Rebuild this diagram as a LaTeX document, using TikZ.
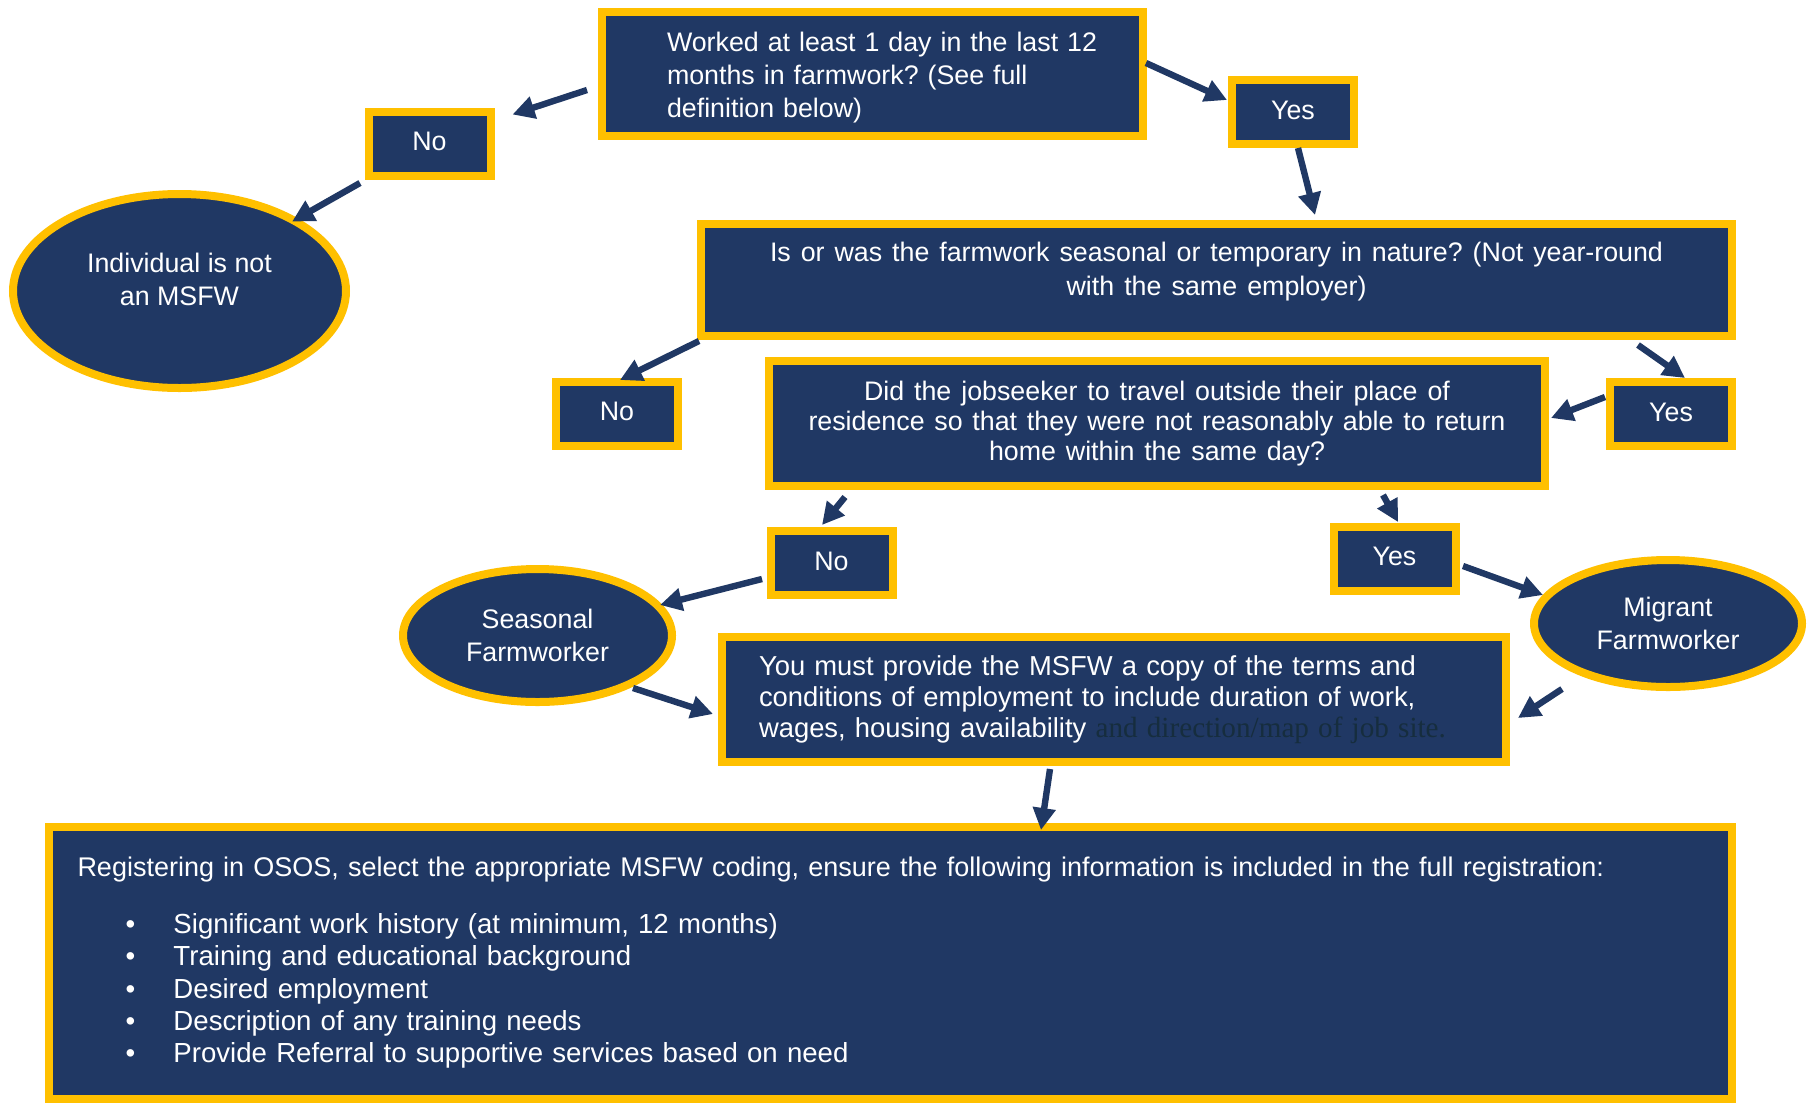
\documentclass[tikz,border=0pt]{standalone}
\usepackage{fontspec}
\setmainfont{Liberation Sans}
\newfontfamily\serifFont{Liberation Serif}
\usepackage{tikz}
\usetikzlibrary{positioning, calc, shapes.geometric, arrows.meta}
\tikzstyle{flowchart} = [x = 0.5pt, y = -0.5pt]
\definecolor{boxColor}{RGB}{32,56,100}
\definecolor{borderColor}{RGB}{255,192,0}
\definecolor{hiddenColor}{RGB}{22,45,62}
\newcommand{\boxFont}{\fontsize{13.4pt}{16.5pt}\selectfont\frenchspacing}
\newcommand{\listFont}{\fontsize{13.8pt}{16.2pt}\selectfont}
\newcommand{\hiddenFont}{\color{hiddenColor}\serifFont\fontsize{14.6pt}{15.5pt}\selectfont}
\tikzstyle{boxStyle} = [rectangle, draw=borderColor, fill=boxColor, line width=4pt, text=white, inner sep=0pt, font=\boxFont]
\tikzstyle{answerStyle} = [boxStyle, minimum width=61pt, minimum height=32pt, text depth=2pt]
\tikzstyle{ovalStyle} = [boxStyle, ellipse, align=center]
\tikzstyle{arrowStyle} = [color=boxColor, line width=3.2pt, -{Triangle[length=11pt, width=11pt]}]
\newcommand{\answerBox}[4]{\node [answerStyle] (#1) at (#2, #3) {#4};}
\newcommand{\flowArrow}[4]{\draw [arrowStyle] ($(#1) + (#2)$) -- ($(#3) + (#4)$);}
\newcommand{\regItem}[1]{\hspace*{24pt}\makebox[24pt][l]{\textbullet}#1}
\newcommand{\spreadLine}[2]{\makebox[#1][s]{#2}}

\begin{document}
\begin{tikzpicture}[flowchart]
  \useasboundingbox (0, 0) rectangle (1809, 1104);
  % questions
  \node [boxStyle, minimum width=270.5pt, minimum height=62pt, text width=205.5pt, align=left] (workBox) at (872.5, 74) {\rule{0pt}{13.2pt}\spreadLine{208.5pt}{Worked at least 1 day in the last 12}\\months in farmwork? (See full\\definition below)};
  \node [boxStyle, minimum width=515.5pt, minimum height=56pt, align=center, font=\fontsize{13.4pt}{17pt}\selectfont\frenchspacing] (seasonalBox) at (1216.5, 280) {\spreadLine{446.5pt}{Is or was the farmwork seasonal or temporary in nature? (Not year-round}\\\spreadLine{150pt}{with the same employer)}\\[-6.2pt]\mbox{}};
  \node [boxStyle, minimum width=388pt, minimum height=62.5pt, align=center, font=\fontsize{13.4pt}{15pt}\selectfont] (travelBox) at (1157, 423.5) {\spreadLine{293pt}{Did the jobseeker to travel outside their place of}\\\spreadLine{348.5pt}{residence so that they were not reasonably able to return}\\\spreadLine{168pt}{home within the same day?}};
  \node [boxStyle, minimum width=392pt, minimum height=62.5pt, text width=355pt, align=left, font=\fontsize{13.7pt}{15.5pt}\selectfont] (termsBox) at (1114, 699.5) {You must provide the MSFW a copy of the terms and\\conditions of employment to include duration of work,\\wages, housing availability {\hiddenFont and direction/map of job site.}};
  \node [boxStyle, minimum width=841.5pt, minimum height=136pt, text width=813pt, align=left, font=\listFont] (registerBox) at (890.5, 963) {{\fontsize{13.5pt}{16.2pt}\selectfont\spreadLine{766pt}{Registering in OSOS, select the appropriate MSFW coding, ensure the following information is included in the full registration:}}\\[12pt]
    \regItem{Significant work history (at minimum, 12 months)}\\
    \regItem{Training and educational background}\\
    \regItem{Desired employment}\\
    \regItem{Description of any training needs}\\
    \regItem{Provide Referral to supportive services based on need}};
  % answers
  \answerBox{noTop}{429.5}{143.5}{No}
  \answerBox{yesTop}{1293}{112}{Yes}
  \answerBox{noMid}{617}{413.5}{No}
  \answerBox{yesRight}{1671}{414}{Yes}
  \answerBox{noLow}{831.5}{563}{No}
  \answerBox{yesLow}{1394.5}{558.5}{Yes}
  % outcomes
  \node [ovalStyle, minimum width=166.5pt, minimum height=97pt] (notEllipse) at (179.5, 291) {Individual is not\\an MSFW\\[-5pt]\mbox{}};
  \node [ovalStyle, minimum width=134.5pt, minimum height=66.5pt] (seasonalEllipse) at (537.5, 635.5) {Seasonal\\Farmworker};
  \node [ovalStyle, minimum width=134pt, minimum height=63.5pt] (migrantEllipse) at (1668, 623.5) {Migrant\\Farmworker};
  % arrows
  \flowArrow{workBox.west}{-11,16}{noTop.north east}{18,7}
  \flowArrow{workBox.east}{-1,-11}{yesTop.west}{-1,-12}
  \flowArrow{yesTop.south}{5,0}{seasonalBox.north}{98.5,-5}
  \flowArrow{noTop.south west}{-4.5,3.5}{notEllipse.north east}{-8,2}
  \flowArrow{seasonalBox.south west}{2,1}{noMid.north}{3,2.5}
  \flowArrow{seasonalBox.south east}{-98,5}{yesRight.north}{14,0}
  \flowArrow{yesRight.west}{-1,-17}{travelBox.east}{2,-5.5}
  \flowArrow{travelBox.south west}{80,7}{noLow.north}{-9.5,-2}
  \flowArrow{travelBox.south}{226,5}{yesLow.north}{3.5,-0.5}
  \flowArrow{noLow.west}{-4.5,16}{seasonalEllipse.center}{122.5,-30.5}
  \flowArrow{yesLow.east}{3.5,7.5}{migrantEllipse.center}{-125,-28.5}
  \flowArrow{seasonalEllipse.center}{95.5,52.5}{termsBox.west}{-5,14.5}
  \flowArrow{migrantEllipse.center}{-106,65.5}{termsBox.east}{8,18.5}
  \flowArrow{termsBox.south}{-64,3}{registerBox.north}{150.5,7}
\end{tikzpicture}
\end{document}
